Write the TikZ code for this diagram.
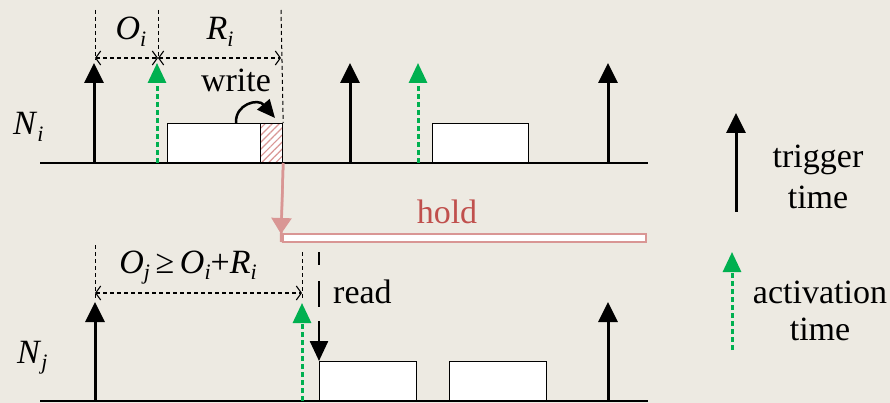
\documentclass[tikz,border=0pt]{standalone}
\usepackage{fontspec}
\setmainfont{Liberation Serif}
\usetikzlibrary{arrows.meta,patterns.meta}
\definecolor{paper}{HTML}{EDEAE2}
\definecolor{actgreen}{HTML}{00B050}
\definecolor{holdline}{HTML}{D99694}
\definecolor{holdtext}{HTML}{C0504D}
% italic symbol with italic subscript
\newcommand{\isub}[2]{\textit{#1}\raisebox{-0.18em}{\fontsize{22}{24}\selectfont\textit{#2}}}
\tikzset{
  x=1pt, y=-1pt,
  every node/.style={font=\fontsize{34}{40}\selectfont, inner sep=0pt},
  timeline/.style={line width=1.3pt},
  trigger/.style={line width=3pt, -{Triangle[width=19pt,length=20pt]}},
  activation/.style={line width=3pt, actgreen, dash pattern=on 5pt off 3pt,
    -{Triangle[width=18pt,length=20pt]}},
  guide/.style={line width=1pt, dash pattern=on 4pt off 3pt},
  dimarrow/.style={line width=1.1pt, dash pattern=on 4pt off 3pt,
    {Straight Barb[length=5pt,width=14pt]}-{Straight Barb[length=5pt,width=14pt]}},
  jobbox/.style={draw, line width=1pt, fill=white, anchor=south west,
    minimum height=39pt},
  holdstyle/.style={holdline, line width=2.5pt},
}
\begin{document}
\begin{tikzpicture}
\fill[paper] (0,0) rectangle (890,403);
\useasboundingbox (0,0) rectangle (890,403);

% ---------- node N_i ----------
\node[anchor=base west] (Ni) at (13,135) {\isub{N}{i}};
\coordinate (ti0) at (40,163);
\coordinate (ti1) at (648,163);
\draw[timeline] (ti0) -- (ti1);

\node[jobbox, minimum width=93pt] (bi1) at (167,163) {};
\node[anchor=south west, minimum width=22pt, minimum height=39pt, draw, line width=1pt,
  preaction={fill=white},
  pattern={Lines[angle=45,distance=5pt,line width=1.2pt]}, pattern color=holdline]
  (wr) at (260,163) {};
\node[jobbox, minimum width=96pt] (bi2) at (432,163) {};

\foreach \x/\n in {94/a, 350/b, 608/c}
  \draw[trigger] (\x,163) coordinate (ti\n) -- (\x,63);
\foreach \x/\n in {157/a, 418/b}
  \draw[activation] (\x,163) coordinate (ai\n) -- (\x,63);

% offset / response time guides
\draw[guide] (95,10) -- (95,60);
\draw[guide] (158,10) -- (158,58);
\draw[guide] (281,10) -- (wr.north east);
\draw[dimarrow] (95,58) -- (158,58);
\draw[dimarrow] (158,58) -- (281,58);
\node[anchor=base] (Oi) at (131,40) {\isub{O}{i}};
\node[anchor=base] (Ri) at (220,40) {\isub{R}{i}};

\node[anchor=base] (write) at (236,92) {write};
\draw[line width=2.5pt, -{Triangle[width=16pt,length=18pt]}]
  (236,123) .. controls (235,104) and (258,98) .. (275,118);

% ---------- hold ----------
\node[anchor=north west, minimum width=363pt, minimum height=8pt, draw=holdline,
  line width=2pt, fill=white] (holdbar) at (282,233) {};
\draw[holdstyle] (wr.south east) -- (281,242);
\draw[holdstyle, -{Triangle[width=20pt,length=16pt]}] (wr.south east) -- (281,234);
\node[anchor=base, text=holdtext] (hold) at (447,223) {hold};

% ---------- node N_j ----------
\node[anchor=base west] (Nj) at (17,363) {\isub{N}{j}};
\coordinate (tj0) at (40,401);
\coordinate (tj1) at (648,401);
\draw[timeline] (tj0) -- (tj1);

\node[jobbox, minimum width=97pt] (bj1) at (319,401) {};
\node[jobbox, minimum width=97pt] (bj2) at (449,401) {};

\foreach \x/\n in {95/a, 608/b}
  \draw[trigger] (\x,401) coordinate (tj\n) -- (\x,302);
\draw[activation] (302,401) coordinate (aja) -- (302,303);

\draw[guide] (95,245) -- (95,300);
\draw[guide] (302,252) -- (302,300);
\draw[dimarrow] (95,293) -- (302,293);
\node[anchor=base] (Oj) at (188,273) {\isub{O}{j}\,≥\,\isub{O}{i}+\isub{R}{i}};

\coordinate (rd) at (319,252);
\draw[line width=2.5pt, dash pattern=on 13pt off 16pt on 26pt off 14pt on 40pt,
  -{Triangle[width=18pt,length=20pt]}] (rd) -- (bj1.north west);
\node[anchor=base west] (read) at (333,303) {read};

% ---------- legend ----------
\draw[trigger] (736,212) coordinate (lt) -- (736,113);
\node[anchor=base] (lt1) at (818,168) {trigger};
\node[anchor=base] (lt2) at (818,208) {time};
\draw[activation] (732,350) coordinate (la) -- (732,252);
\node[anchor=base] (la1) at (820,303) {activation};
\node[anchor=base] (la2) at (820,340) {time};
\end{tikzpicture}
\end{document}
